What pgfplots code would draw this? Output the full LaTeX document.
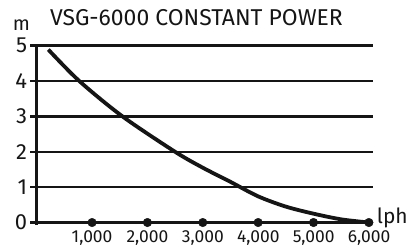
\documentclass[border=0pt]{standalone}
\usepackage{pgfplots}
\pgfplotsset{compat=1.18}
\usepackage{fontspec}
\setmainfont{Fira Sans}
\definecolor{ink}{HTML}{151515}
\begin{document}
\begin{tikzpicture}
\begin{axis}[
  at={(0,0)}, anchor=south west,
  scale only axis,
  width=336.6bp, height=179.3bp,
  xmin=0, xmax=6080,
  ymin=-0.07, ymax=5,
  axis x line=none,
  axis y line*=left,
  y axis line style={line width=2.4bp, ink, -},
  ytick={0,1,2,3,4,5},
  yticklabels={0,1,2,3,4,5},
  ymajorgrids,
  major grid style={line width=2.4bp, ink},
  major tick length=6.5bp,
  tick align=outside,
  tick style={line width=2.4bp, ink},
  yticklabel style={font=\fontsize{22}{22}\selectfont, text=ink, inner sep=0pt, xshift=-3bp},
  clip=false,
]
\addplot[ink, line width=3.8bp, smooth, tension=0.5] coordinates {
  (210,4.89) (770,4.0) (1550,3.0) (2500,2.0) (3000,1.55) (3500,1.15)
  (4000,0.74) (4500,0.45) (5000,0.25) (5500,0.09) (6000,0.0)
};
\addplot[only marks, mark=*, mark size=4.3bp, ink] coordinates {
  (1000,0) (2000,0) (3000,0) (4000,0) (5000,0) (6000,0)
};
\end{axis}
% x tick labels
\foreach \v/\l in {1/{1,000},2/{2,000},3/{3,000},4/{4,000},5/{5,000},6/{6,000}}{
  \node[anchor=base, inner sep=0pt, text=ink, font=\fontsize{17.5}{17.5}\selectfont] at ({(\v*55.4)*1bp}, -17.8bp) {\l};
}
\node[anchor=base, inner sep=0pt, text=ink, font=\fontsize{23}{23}\selectfont] at (159.8bp,199bp) {VSG-6000 CONSTANT POWER};
\node[anchor=base, inner sep=0pt, text=ink, font=\fontsize{20}{20}\selectfont] at (-15.2bp,194.3bp) {m};
\node[anchor=base west, inner sep=0pt, text=ink, font=\fontsize{21}{21}\selectfont] at (340bp,2bp) {lph};
\pgfresetboundingbox
\path[use as bounding box] (-36.7bp,-22bp) rectangle (374.3bp,225bp);
\end{tikzpicture}
\end{document}
